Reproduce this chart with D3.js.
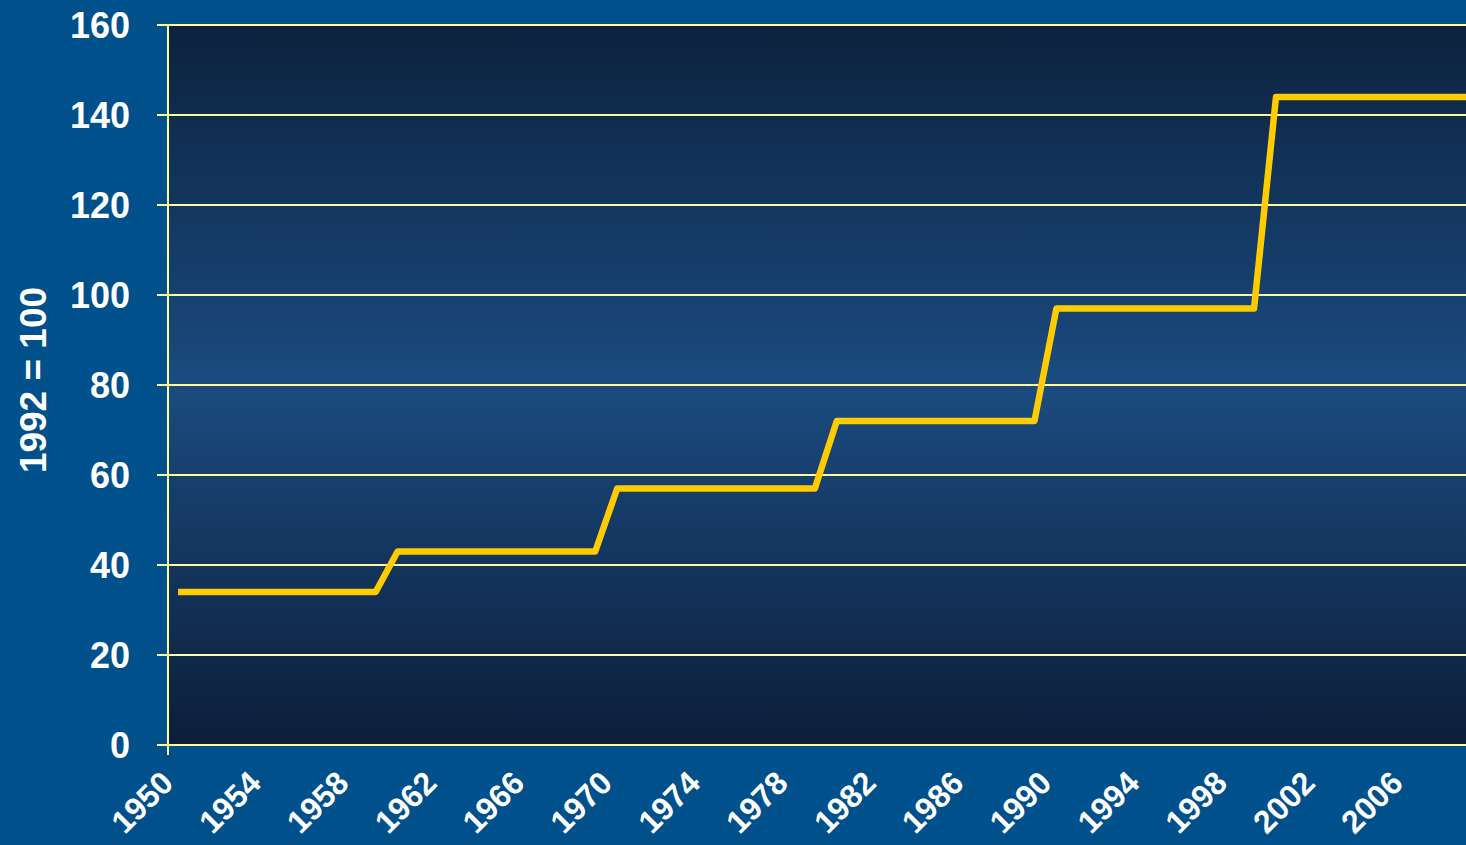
<!DOCTYPE html>
<html>
<head>
<meta charset="utf-8">
<script src="https://cdn.jsdelivr.net/npm/d3@7"></script>
<style>
    html, body { margin: 0; padding: 0; background: #00508c; overflow: hidden; }
    svg { display: block; font-family: Arial, "Liberation Sans", sans-serif; font-weight: bold; }
</style>
</head>
<body>
<svg></svg>
<script>
'use strict';
// data
var years = d3.range(1950, 2010);
var stepStarts = [1950, 1960, 1970, 1980, 1990, 2000];
var stepValues = [34, 43, 57, 72, 97, 144];
var yTicks = [0, 20, 40, 60, 80, 100, 120, 140, 160];
var xTickLabels = [1950, 1954, 1958, 1962, 1966, 1970, 1974, 1978, 1982, 1986, 1990, 1994, 1998, 2002, 2006];

var values = years.map(function (yr) {
    var i = d3.bisectRight(stepStarts, yr) - 1;
    return { year: yr, value: stepValues[i] };
});

var canvasWidth = 1466;
var canvasHeight = 845;
var plot = { left: 168, top: 25, bottom: 745, right: 1466 };
var yearStep = 21.96;

var svg = d3.select('svg')
    .attr('width', canvasWidth)
    .attr('height', canvasHeight);

var xScale = d3.scalePoint()
    .domain(years)
    .range([178, 178 + (years.length - 1) * yearStep]);
var yScale = d3.scaleLinear()
    .domain([0, 160])
    .range([plot.bottom, plot.top]);

// background gradient for the plot area
var grad = svg.append('defs').append('linearGradient')
    .attr('id', 'bg').attr('x1', 0).attr('y1', 0).attr('x2', 0).attr('y2', 1);
grad.append('stop').attr('offset', '0%').attr('stop-color', '#0c223e');
grad.append('stop').attr('offset', '50%').attr('stop-color', '#1b4b80');
grad.append('stop').attr('offset', '100%').attr('stop-color', '#0c1e39');

svg.append('rect')
    .attr('x', plot.left)
    .attr('y', plot.top)
    .attr('width', plot.right - plot.left)
    .attr('height', plot.bottom - plot.top)
    .attr('fill', 'url(#bg)');

// gridlines + ticks
svg.append('g').selectAll('line')
    .data(yTicks)
    .enter().append('line')
    .attr('x1', plot.left - 11)
    .attr('x2', plot.right)
    .attr('y1', function (d) { return yScale(d); })
    .attr('y2', function (d) { return yScale(d); })
    .attr('stroke', '#ffff99')
    .attr('stroke-width', 2);

// y axis line
svg.append('line')
    .attr('x1', plot.left).attr('x2', plot.left)
    .attr('y1', plot.top).attr('y2', plot.bottom + 10)
    .attr('stroke', '#ffff99')
    .attr('stroke-width', 2);

// y tick labels
svg.append('g').selectAll('text')
    .data(yTicks)
    .enter().append('text')
    .attr('x', 130)
    .attr('y', function (d) { return yScale(d); })
    .attr('dy', '0.36em')
    .attr('text-anchor', 'end')
    .attr('fill', '#ffffff')
    .style('font-size', '36px')
    .text(function (d) { return d; });

// y axis title
svg.append('text')
    .attr('transform', 'translate(46,380) rotate(-90)')
    .attr('text-anchor', 'middle')
    .attr('fill', '#ffffff')
    .style('font-size', '37px')
    .text('1992 = 100');

// x tick labels (rotated, kept inside the bottom edge)
svg.append('g').selectAll('text')
    .data(xTickLabels)
    .enter().append('text')
    .attr('transform', function (d) {
        return 'translate(' + (xScale(d) - 3) + ',785) rotate(-45)';
    })
    .attr('text-anchor', 'end')
    .attr('fill', '#ffffff')
    .style('font-size', '32px')
    .text(function (d) { return d; });

// the step line
var line = d3.line()
    .x(function (d) { return xScale(d.year); })
    .y(function (d) { return yScale(d.value); });

svg.append('path')
    .datum(values)
    .attr('d', line)
    .attr('fill', 'none')
    .attr('stroke', '#ffcc00')
    .attr('stroke-width', 6.5)
    .attr('stroke-linejoin', 'round');
</script>
</body>
</html>
